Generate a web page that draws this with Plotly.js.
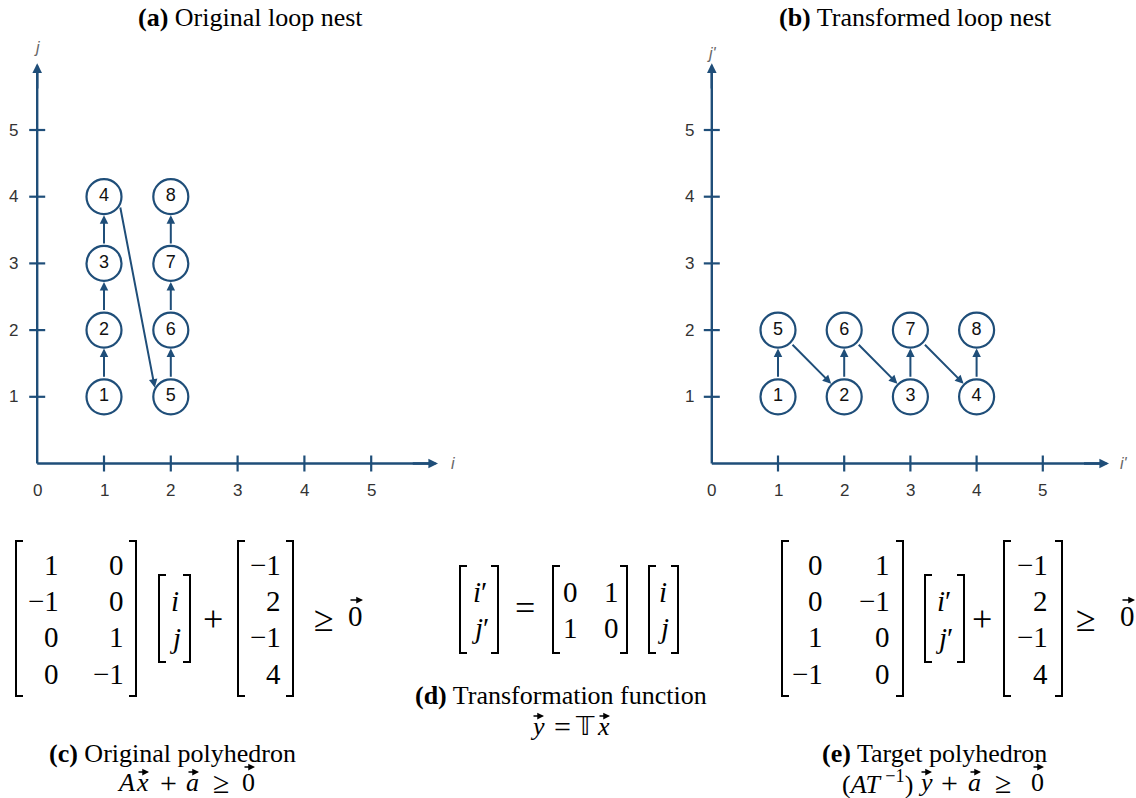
<!DOCTYPE html>
<html>
<head>
<meta charset="utf-8">
<script src="https://cdn.plot.ly/plotly-3.0.1.min.js"></script>
<style>
  html, body { margin: 0; padding: 0; background: #fff; }
  #chart { width: 1136px; height: 798px; }
</style>
</head>
<body>
<div id="chart"></div>
<script>
// ---- iteration domain of the original nest: point (i, j) and its execution order
const origIds = [1, 2, 3, 4, 5, 6, 7, 8];
const origI   = [1, 1, 1, 1, 2, 2, 2, 2];
const origJ   = [1, 2, 3, 4, 1, 2, 3, 4];
const origEdges = [[1, 2], [2, 3], [3, 4], [4, 5], [5, 6], [6, 7], [7, 8]];
// leave / enter angles (deg) for the edge that wraps to the next column
const origEdgeAnchors = { '4-5': [-30, 150] };

// ---- the same iterations after interchange: point (i', j')
const transIds = [1, 2, 3, 4, 5, 6, 7, 8];
const transI   = [1, 2, 3, 4, 1, 2, 3, 4];
const transJ   = [1, 1, 1, 1, 2, 2, 2, 2];
const transEdges = [[1, 5], [5, 2], [2, 6], [6, 3], [3, 7], [7, 4], [4, 8]];
const transEdgeAnchors = {};

// ---- axis ticks
const xTickVals = [0, 1, 2, 3, 4, 5];
const yTickVals = [1, 2, 3, 4, 5];

// ---- polyhedra and transformation
const matA  = [[1, 0], [-1, 0], [0, 1], [0, -1]];
const vecA  = [-1, 2, -1, 4];
const matT  = [[0, 1], [1, 0]];
const matAT = [[0, 1], [0, -1], [1, 0], [-1, 0]];

const BLUE = '#1f4e79';
const W = 1136, H = 798;
const SANS = 'Liberation Sans, Arial, Helvetica, sans-serif';
const SERIF = 'Liberation Serif, Times New Roman, serif';

// vertical geometry shared by both lattice panels (pixels)
const OY = 463.5, SY = 66.7, TOP = 20, BOTTOM = 505;
const NODE_R = 18.5;

const panels = [
  { ids: origIds, xs: origI, ys: origJ, edges: origEdges, anchors: origEdgeAnchors,
    ox: 37.2, sx: 66.8, left: 0, right: 466, xa: 'x', ya: 'y', ax: 'xaxis', ay: 'yaxis',
    xlab: '<i>i</i>', ylab: '<i>j</i>', xlabX: 6.22, ylabY: 6.24, yShift: -24,
    title: '<b>(a)</b> Original loop nest', titleX: 250 },
  { ids: transIds, xs: transI, ys: transJ, edges: transEdges, anchors: transEdgeAnchors,
    ox: 711.8, sx: 66.2, left: 672, right: 1136, xa: 'x2', ya: 'y2', ax: 'xaxis2', ay: 'yaxis2',
    xlab: "<i>i'</i>", ylab: "<i>j'</i>", xlabX: 6.22, ylabY: 6.14, yShift: -22,
    title: '<b>(b)</b> Transformed loop nest', titleX: 915 }
];

const traces = [];
const shapes = [];
const annotations = [];
const layout = {
  width: W, height: H, margin: { l: 0, r: 0, t: 0, b: 0 },
  paper_bgcolor: '#fff', plot_bgcolor: 'rgba(0,0,0,0)',
  showlegend: false, hovermode: false
};

panels.forEach(p => {
  layout[p.ax] = { domain: [p.left / W, p.right / W],
    range: [(p.left - p.ox) / p.sx, (p.right - p.ox) / p.sx],
    visible: false, fixedrange: true, anchor: p.ya };
  layout[p.ay] = { domain: [1 - BOTTOM / H, 1 - TOP / H],
    range: [(OY - BOTTOM) / SY, (OY - TOP) / SY],
    visible: false, fixedrange: true, anchor: p.xa };

  const ref = { xref: p.xa, yref: p.ya };

  // axis lines
  shapes.push(Object.assign({ type: 'line', x0: 0, y0: 0, x1: 5.9, y1: 0,
    line: { color: BLUE, width: 2.4 } }, ref));
  shapes.push(Object.assign({ type: 'line', x0: 0, y0: 0, x1: 0, y1: 5.9,
    line: { color: BLUE, width: 2.4 } }, ref));
  // axis arrow heads
  [[6.0, 0, 5.6, 0], [0, 6.0, 0, 5.6]].forEach(a => {
    annotations.push(Object.assign({ x: a[0], y: a[1], ax: a[2], ay: a[3],
      axref: p.xa, ayref: p.ya, text: '', showarrow: true, arrowhead: 2,
      arrowsize: 0.8, arrowwidth: 2.4, arrowcolor: BLUE, standoff: 0 }, ref));
  });

  // ticks crossing the axes
  xTickVals.filter(v => v > 0).forEach(v => {
    shapes.push(Object.assign({ type: 'line', x0: v, x1: v, ysizemode: 'pixel', yanchor: 0,
      y0: -8, y1: 8, line: { color: BLUE, width: 2.2 } }, ref));
  });
  yTickVals.forEach(v => {
    shapes.push(Object.assign({ type: 'line', y0: v, y1: v, xsizemode: 'pixel', xanchor: 0,
      x0: -8, x1: 8, line: { color: BLUE, width: 2.2 } }, ref));
  });

  // tick labels
  const tickFont = { family: SANS, size: 17, color: '#333' };
  xTickVals.forEach(v => annotations.push(Object.assign({ x: v, y: 0, yshift: -27,
    text: String(v), showarrow: false, font: tickFont }, ref)));
  yTickVals.forEach(v => annotations.push(Object.assign({ x: 0, y: v, xshift: p.yShift,
    text: String(v), showarrow: false, font: tickFont }, ref)));

  // axis names
  const labFont = { family: SANS, size: 16, color: '#666' };
  annotations.push(Object.assign({ x: p.xlabX, y: 0, text: p.xlab, showarrow: false, font: labFont }, ref));
  annotations.push(Object.assign({ x: 0, y: p.ylabY, text: p.ylab, showarrow: false, font: labFont }, ref));

  // panel title
  annotations.push({ xref: 'paper', yref: 'paper', x: p.titleX / W, y: 1 - 18 / H,
    xanchor: 'center', yanchor: 'middle',
    text: p.title, showarrow: false, font: { family: SERIF, size: 26, color: '#000' } });

  // execution-order edges, from circle edge to circle edge
  const pos = {};
  p.ids.forEach((id, k) => { pos[id] = [p.xs[k], p.ys[k]]; });
  p.edges.forEach(([a, b]) => {
    const A = pos[a], B = pos[b];
    const ang = Math.atan2((B[1] - A[1]) * SY, (B[0] - A[0]) * p.sx);
    const over = p.anchors[a + '-' + b];
    const out = over ? over[0] * Math.PI / 180 : ang;
    const inn = over ? over[1] * Math.PI / 180 : ang + Math.PI;
    const tail = [A[0] + NODE_R * Math.cos(out) / p.sx, A[1] + NODE_R * Math.sin(out) / SY];
    const head = [B[0] + NODE_R * Math.cos(inn) / p.sx, B[1] + NODE_R * Math.sin(inn) / SY];
    annotations.push(Object.assign({ x: head[0], y: head[1], ax: tail[0], ay: tail[1],
      axref: p.xa, ayref: p.ya, text: '', showarrow: true, arrowhead: 2,
      arrowsize: 0.85, arrowwidth: 2, arrowcolor: BLUE, standoff: 0 }, ref));
  });

  // iteration points
  traces.push({ type: 'scatter', mode: 'markers+text', x: p.xs, y: p.ys, xaxis: p.xa, yaxis: p.ya,
    text: p.ids.map(String), textposition: 'middle center', cliponaxis: false, hoverinfo: 'skip',
    textfont: { family: SANS, size: 18, color: '#111' },
    marker: { symbol: 'circle', size: 35, color: '#fff', line: { color: BLUE, width: 2.2 } } });
});

// ---- lower strip: equations laid out in page pixels
layout.xaxis3 = { domain: [0, 1], range: [0, W], visible: false, fixedrange: true, anchor: 'y3' };
layout.yaxis3 = { domain: [0, 1 - 515 / H], range: [H, 515], visible: false, fixedrange: true, anchor: 'x3' };
traces.push({ type: 'scatter', x: [], y: [], xaxis: 'x3', yaxis: 'y3', hoverinfo: 'skip' });

function num(v) { return v < 0 ? '\u2212' + Math.abs(v) : String(v); }
function put(text, x, y, size, anchor) {
  annotations.push({ xref: 'x3', yref: 'y3', x: x, y: y, text: text, showarrow: false,
    xanchor: anchor || 'center', yanchor: 'middle',
    font: { family: SERIF, size: size || 29, color: '#000' } });
}
function vecArrow(cx, y, half) {
  const h = half || 7;
  annotations.push({ xref: 'x3', yref: 'y3', axref: 'x3', ayref: 'y3',
    x: cx + h, y: y, ax: cx - h, ay: y, text: '', showarrow: true,
    arrowhead: 2, arrowsize: 0.9, arrowwidth: 1.5, arrowcolor: '#000', standoff: 0 });
}
function brackets(xl, xr, top, bottom) {
  const arm = 7;
  shapes.push({ type: 'path', xref: 'x3', yref: 'y3', line: { color: '#000', width: 2 },
    path: `M${xl + arm},${top}L${xl},${top}L${xl},${bottom}L${xl + arm},${bottom}` });
  shapes.push({ type: 'path', xref: 'x3', yref: 'y3', line: { color: '#000', width: 2 },
    path: `M${xr - arm},${top}L${xr},${top}L${xr},${bottom}L${xr - arm},${bottom}` });
}
function matrix(rows, xl, xr, top, bottom, colX, rowY, anchor) {
  brackets(xl, xr, top, bottom);
  rows.forEach((r, ri) => r.forEach((v, ci) =>
    put(typeof v === 'number' ? num(v) : v, colX[ci], rowY[ri], 29, anchor)));
}
function tokens(list, y, size, arrowLow, arrowHigh) {
  list.forEach(t => {
    put(t[0], t[1], y, t[3] || size);
    if (t[2] === 'v') vecArrow(t[1] + 1, arrowLow, 6);
    if (t[2] === 'V') vecArrow(t[1] + 1, arrowHigh, 6);
  });
}

const rows4 = [565, 601, 637, 674];
const col = v => v.map(x => [x]);
const ij = [['<i>i</i>'], ['<i>j</i>']];
const ijp = [['<i>i</i>\u2032'], ['<i>j</i>\u2032']];
const REL = 36;   // relation / operator glyph size in the matrix rows

// (c) original polyhedron
matrix(matA, 16, 136, 541, 696, [61, 126], rows4, 'right');
matrix(ij, 159, 190, 575, 662, [175], [601, 638], 'center');
put('+', 213, 619, REL);
matrix(col(vecA), 238, 293, 541, 696, [283], rows4, 'right');
put('\u2265', 324, 619, REL);
put('0', 355, 616); vecArrow(356, 600);
put('<b>(c)</b> Original polyhedron', 172, 753, 26);
tokens([['<i>A</i>', 126], ['<i>x</i>', 142, 'v'], ['+', 168, '', 30], ['<i>a</i>', 192, 'v'],
        ['\u2265', 221, '', 30], ['0', 248, 'V']], 782, 26, 772, 767);

// (d) transformation
matrix(ijp, 460, 498, 566, 653, [480], [592, 628], 'center');
put('=', 525, 608, REL);
matrix(matT, 553, 627, 566, 653, [570, 611], [592, 628], 'center');
matrix(ij, 649, 678, 566, 653, [663], [592, 628], 'center');
put('<b>(d)</b> Transformation function', 561, 695, 26);
tokens([['<i>y</i>', 537, 'v'], ['=', 562, '', 30], ['\ud835\udd4b', 585], ['<i>x</i>', 603, 'v']],
       726, 26, 716, 711);

// (e) target polyhedron
matrix(matAT, 782, 903, 541, 696, [825, 892], rows4, 'right');
matrix(ijp, 925, 964, 575, 662, [944], [601, 638], 'center');
put('+', 982, 619, REL);
matrix(col(vecA), 1004, 1062, 541, 696, [1050], rows4, 'right');
put('\u2265', 1086, 619, REL);
put('0', 1127, 616); vecArrow(1128, 600);
put('<b>(e)</b> Target polyhedron', 934, 753, 26);
tokens([['(<i>AT</i>\u2009<sup>\u22121</sup>)', 877], ['<i>y</i>', 925, 'v'], ['+', 949, '', 30],
        ['<i>a</i>', 974, 'v'], ['\u2265', 1003, '', 30], ['0', 1037, 'V']], 782, 26, 772, 767);

layout.shapes = shapes;
layout.annotations = annotations;

Plotly.newPlot('chart', traces, layout, { staticPlot: true, displayModeBar: false });
</script>
</body>
</html>
